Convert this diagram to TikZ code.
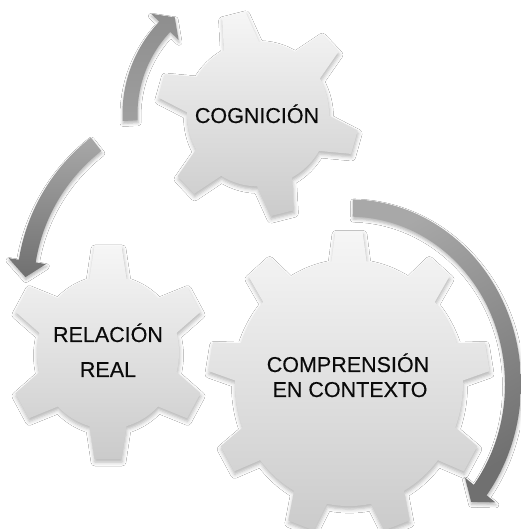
\documentclass[tikz,border=0pt]{standalone}
\usepackage{fontspec}
\setmainfont{Liberation Sans}
\usetikzlibrary{shadows.blur}
\definecolor{gearTop}{HTML}{F6F6F6}
\definecolor{gearBot}{HTML}{CBCBCB}
\definecolor{arrLight}{HTML}{A8A8A8}
\definecolor{arrMid}{HTML}{8E8E8E}
\definecolor{arrDark}{HTML}{707070}
\definecolor{txtcol}{HTML}{0A0A0A}

% #1 style, #2 center, #3 teeth, #4 inner r, #5 outer R, #6 rotation, #7 base half width, #8 tip half width
\newcommand{\mygear}[8]{%
 \begin{scope}[shift={(#2)}]
  \pgfmathsetmacro\gst{360/#3}
  \pgfmathsetmacro\gba{asin(#7/#4)}
  \pgfmathsetmacro\gta{asin(#8/#5)}
  \pgfmathtruncatemacro\gn{#3-1}
  \path[#1] ({#6-\gba}:#4)
   \foreach \k in {0,...,\gn} {
     -- ({#6+\k*\gst-\gta}:#5) -- ({#6+\k*\gst+\gta}:#5) -- ({#6+\k*\gst+\gba}:#4)
     arc[start angle={#6+\k*\gst+\gba}, end angle={#6+(\k+1)*\gst-\gba}, radius=#4]
   } -- cycle;
 \end{scope}}

% #1 style, #2 center, #3 mid radius, #4 half width, #5 head half width, #6 start angle, #7 head base angle, #8 tip angle
\newcommand{\myarrow}[8]{%
 \begin{scope}[shift={(#2)}]
  \path[#1] ({#6}:{#3+#4}) arc[start angle={#6}, end angle={#7}, radius={#3+#4}]
    -- ({#7}:{#3+#5}) -- ({#8}:{#3}) -- ({#7}:{#3-#5}) -- ({#7}:{#3-#4})
    arc[start angle={#7}, end angle={#6}, radius={#3-#4}] -- cycle;
 \end{scope}}

\tikzset{
  gearstyle/.style={top color=gearTop, bottom color=gearBot,
    blur shadow={shadow xshift=0.5pt, shadow yshift=-3pt, shadow blur radius=4pt, shadow opacity=30}},
  arrowstyle/.style={blur shadow={shadow xshift=0.5pt, shadow yshift=-2.5pt, shadow blur radius=3pt, shadow opacity=30}},
  lbl/.style={font=\fontsize{21.5}{25}\selectfont\addfontfeature{FakeBold=0.3}, text=txtcol, inner sep=0pt}
}

\begin{document}
\begin{tikzpicture}[x=1pt,y=1pt]
\useasboundingbox (0,0) rectangle (520,529);
\fill[white] (0,0) rectangle (520,529);

% gears
\begin{scope}[shift={(258,415)}, yscale=1.02]
  \mygear{gearstyle}{0,0}{6}{71}{101}{104}{18}{12}
\end{scope}
\begin{scope}[shift={(108,176.5)}, yscale=1.075]
  \mygear{gearstyle}{0,0}{6}{71}{100}{90}{18.5}{13.5}
\end{scope}
\begin{scope}[shift={(349,146)}, yscale=1.08]
  \mygear{gearstyle}{0,0}{9}{114}{141}{90}{17.5}{13.5}
  \myarrow{arrowstyle, top color=arrLight, bottom color=arrDark, shading angle=30}{1,-1}{163}{8}{19}{89}{-37}{-42}
\end{scope}

% arrows
\myarrow{arrowstyle, top color=arrMid, bottom color=arrMid!85!white}{257,415}{127}{7.5}{19}{183}{136.6}{130.4}
\myarrow{arrowstyle, top color=arrLight, bottom color=arrDark}{210,239}{185}{8.5}{19}{128}{171}{176}

% labels
\node[lbl, anchor=base] (cog) at (257,406) {COGNICIÓN};
\node[lbl, anchor=base] (rel1) at (108,187) {RELACIÓN};
\node[lbl, anchor=base] (rel2) at (108,152) {REAL};
\node[lbl, anchor=base] (comp1) at (348,157) {COMPRENSIÓN};
\node[lbl, anchor=base] (comp2) at (350,132) {EN CONTEXTO};
\end{tikzpicture}
\end{document}
